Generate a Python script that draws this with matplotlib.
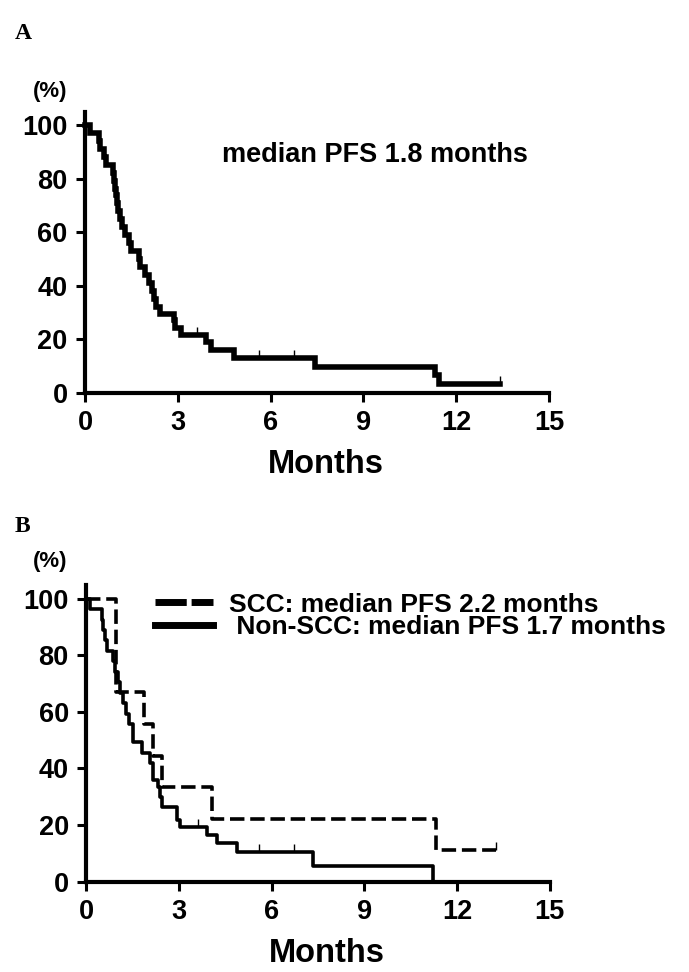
"""
Kaplan-Meier PFS curves, panels A and B
"""

import matplotlib
matplotlib.use('Agg')
import matplotlib.pyplot as plt
from matplotlib.lines import Line2D

# panel A: all patients (step times in months, PFS in %)
all_t = [0, 0.16, 0.44, 0.5, 0.6, 0.68, 0.92, 0.94, 0.96, 0.99, 1.03, 1.08, 1.14, 1.19, 1.3,
         1.41, 1.5, 1.73, 1.79, 1.95, 2.06, 2.15, 2.22, 2.3, 2.44, 2.87, 2.92, 3.09, 3.9, 4.06,
         4.82, 7.42, 11.3, 11.45, 13.43]
all_s = [100, 97, 94, 91, 88, 85, 82, 79, 76, 74, 71, 68, 65, 62, 59,
         56, 53, 50, 47, 44, 41, 38, 35, 32, 29.5, 27, 24, 21.6, 18.8, 16,
         13, 9.7, 6.5, 3.2, 3.2]
all_cens_t = [3.63, 5.63, 6.77, 13.4]
all_cens_s = [21.6, 13, 13, 3.2]

# panel B: SCC
scc_t = [0, 0.97, 1.87, 2.17, 2.44, 4.06, 11.33, 13.27]
scc_s = [100, 67, 55.6, 44.4, 33.3, 22.2, 11.1, 11.1]
scc_cens_t = [13.27]
scc_cens_s = [11.1]

# panel B: non-SCC
non_t = [0, 0.13, 0.5, 0.55, 0.62, 0.68, 0.88, 0.95, 1.02, 1.1, 1.2, 1.3, 1.4, 1.53,
         1.8, 2.07, 2.17, 2.34, 2.39, 2.44, 2.93, 3.04, 3.9, 4.22, 4.87, 7.35, 11.23]
non_s = [100, 96.3, 92.6, 88.9, 85.2, 81.5, 77.8, 74.1, 70.4, 66.7, 63.0, 59.3, 55.6, 49.4,
         45.3, 41.8, 35.9, 33.5, 30.0, 26.5, 21.8, 19.4, 16.5, 13.5, 10.6, 5.6, 0]
non_cens_t = [3.63, 5.6, 6.73]
non_cens_s = [19.4, 10.6, 10.6]

xticks = [0, 3, 6, 9, 12, 15]
yticks = [0, 20, 40, 60, 80, 100]

plt.rcParams['font.family'] = ['Liberation Sans', 'DejaVu Sans']
plt.rcParams['font.weight'] = 'bold'

fig = plt.figure(figsize=(6.89, 9.72), dpi=100)


def style_axes(ax, ytop):
    ax.set_xlim(0, 15)
    ax.set_ylim(0, ytop)
    ax.set_xticks(xticks)
    ax.set_yticks(yticks)
    for side in ['top', 'right']:
        ax.spines[side].set_visible(False)
    for side in ['left', 'bottom']:
        ax.spines[side].set_linewidth(3)
    ax.tick_params(axis='both', length=6.5, width=2.2, labelsize=19.5, pad=6)
    for lab in ax.get_xticklabels() + ax.get_yticklabels():
        lab.set_fontweight('bold')


# ---- panel A
axA = fig.add_axes([0.1234, 0.596, 0.6734, 0.289])
axA.step(all_t, all_s, where='post', color='black', lw=4, clip_on=False, solid_joinstyle='miter')
axA.plot(all_cens_t, all_cens_s, ls='none', marker=2, ms=6, mew=1, color='black')
style_axes(axA, 105)
axA.text(0.295, 0.846, 'median PFS 1.8 months', transform=axA.transAxes,
         fontsize=19.5, fontweight='bold', va='center', ha='left')
axA.set_xlabel('Months', fontsize=23.5, fontweight='bold')
axA.xaxis.set_label_coords(0.52, -0.2)

# ---- panel B
axB = fig.add_axes([0.125, 0.0929, 0.673, 0.305])
axB.step(scc_t, scc_s, where='post', color='black', lw=2.6, dashes=(4, 1.6),
         clip_on=False, dash_capstyle='butt')
axB.step(non_t, non_s, where='post', color='black', lw=2.6, clip_on=False)
axB.plot(scc_cens_t, scc_cens_s, ls='none', marker=2, ms=6, mew=1, color='black')
axB.plot(non_cens_t, non_cens_s, ls='none', marker=2, ms=6, mew=1, color='black')
style_axes(axB, 104.7)
axB.set_xlabel('Months', fontsize=23.5, fontweight='bold')
axB.xaxis.set_label_coords(0.52, -0.19)

handles = [Line2D([], [], color='black', lw=5, dashes=(4.5, 0.7, 4.5, 0.7, 0.6, 10)),
           Line2D([], [], color='black', lw=5)]
labels = ['SCC: median PFS 2.2 months', ' Non-SCC: median PFS 1.7 months']
leg = axB.legend(handles, labels, loc='upper left', bbox_to_anchor=(0.148, 0.975),
                 frameon=False, fontsize=19, handlelength=2.2, handletextpad=0.6,
                 labelspacing=-0.05, borderpad=0, borderaxespad=0)
for t in leg.get_texts():
    t.set_fontweight('bold')

# panel letters and y units
fig.text(0.0218, 0.96, 'A', fontsize=17, fontweight='bold', family='Liberation Serif')
fig.text(0.0218, 0.4527, 'B', fontsize=17, fontweight='bold', family='Liberation Serif')
fig.text(0.0726, 0.906, '(%)', fontsize=16, fontweight='bold', ha='center', va='center')
fig.text(0.0726, 0.422, '(%)', fontsize=16, fontweight='bold', ha='center', va='center')

fig.savefig('out.png', dpi=100)
